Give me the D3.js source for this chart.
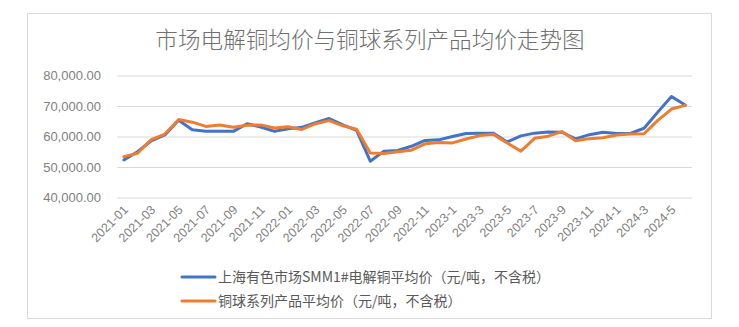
<!DOCTYPE html>
<html><head><meta charset="utf-8">
<script src="https://cdn.jsdelivr.net/npm/d3@7"></script>
<style>
html,body{margin:0;padding:0;background:#fff;}
svg{display:block;}
</style></head>
<body>
<svg id="chart" width="739" height="327"></svg>
<script>
const title = "市场电解铜均价与铜球系列产品均价走势图";
const categories = ["2021-01","2021-02","2021-03","2021-04","2021-05","2021-06","2021-07","2021-08","2021-09","2021-10","2021-11","2021-12",
"2022-01","2022-02","2022-03","2022-04","2022-05","2022-06","2022-07","2022-08","2022-09","2022-10","2022-11","2022-12",
"2023-1","2023-2","2023-3","2023-4","2023-5","2023-6","2023-7","2023-8","2023-9","2023-10","2023-11","2023-12",
"2024-1","2024-2","2024-3","2024-4","2024-5","2024-6"];
const seriesNames = ["上海有色市场SMM1#电解铜平均价（元/吨，不含税）","铜球系列产品平均价（元/吨，不含税）"];
const electrolyticCopper = [52300,55000,58600,60500,65300,62200,61700,61700,61700,64200,63100,61700,
62500,63000,64500,65900,63800,62000,51900,55200,55400,56800,58700,58900,
60000,61000,61100,61100,58200,60200,61100,61500,61400,59200,60600,61400,
61000,61000,62700,68000,73100,70300];
const copperBall = [53400,54500,59000,60800,65600,64700,63300,63800,63000,63700,63800,62800,
63200,62300,64200,65200,63500,62400,54600,54400,55000,55500,57600,58000,
57900,59200,60300,60700,57900,55200,59400,60100,61600,58600,59300,59600,
60500,60800,60900,65300,69000,70200];
const yTicks = [40000,50000,60000,70000,80000];
const colors = ["#4472C4","#ED7D31"];

const svg = d3.select("#chart");
// chart frame
svg.append("rect").attr("x",27.5).attr("y",13.5).attr("width",684).attr("height",305)
  .attr("fill","#fff").attr("stroke","#d9d9d9").attr("stroke-width",1);

svg.append("text").attr("x",370).attr("y",48).attr("text-anchor","middle")
  .attr("font-family","'Noto Sans CJK SC', sans-serif").attr("font-size",22.6).attr("font-weight",300)
  .attr("fill","#6f6f6f").text(title);

const x = d3.scaleBand().domain(categories).range([117,692]).padding(0);
const y = d3.scaleLinear().domain([40000,80000]).range([197.5,75.5]);
const cx = d => x(d) + x.bandwidth()/2;

const fmt = d3.format(",.2f");
const yAxis = d3.axisLeft(y).tickValues(yTicks).tickSize(-(692-117)).tickFormat(fmt).tickPadding(16);
const gy = svg.append("g").attr("transform","translate(117,0)").call(yAxis);
gy.select(".domain").remove();
gy.selectAll(".tick line").attr("stroke","#d9d9d9").attr("stroke-width",1);
gy.selectAll(".tick text").attr("font-family","'Liberation Sans', Arial, sans-serif")
  .attr("font-size",13).attr("fill","#7f7f7f");

const xAxis = d3.axisBottom(x).tickValues(categories.filter((d,i)=>i%2===0)).tickSize(0).tickFormat(d=>d);
const gx = svg.append("g").attr("transform","translate(0,197.5)").call(xAxis);
gx.select(".domain").remove();
gx.selectAll(".tick text")
  .attr("font-family","'Liberation Sans', Arial, sans-serif").attr("font-size",12.5).attr("fill","#7f7f7f")
  .attr("text-anchor","end").attr("dy",0).attr("y",0)
  .attr("transform","translate(5,13) rotate(-45)");

const line = d3.line().x((d,i)=>cx(categories[i])).y(d=>y(d));
[electrolyticCopper, copperBall].forEach((s,k)=>{
  svg.append("path").datum(s).attr("d",line).attr("fill","none")
    .attr("stroke",colors[k]).attr("stroke-width",3).attr("stroke-linejoin","round").attr("stroke-linecap","round");
});

const lg = svg.append("g");
seriesNames.forEach((n,k)=>{
  const yy = 277 + k*24;
  lg.append("line").attr("x1",182).attr("x2",215).attr("y1",yy).attr("y2",yy)
    .attr("stroke",colors[k]).attr("stroke-width",3).attr("stroke-linecap","round");
  lg.append("text").attr("x",218).attr("y",yy+5)
    .attr("font-family","'Noto Sans CJK SC', sans-serif").attr("font-size",14)
    .attr("fill","#595959").text(n);
});
</script>
</body></html>
